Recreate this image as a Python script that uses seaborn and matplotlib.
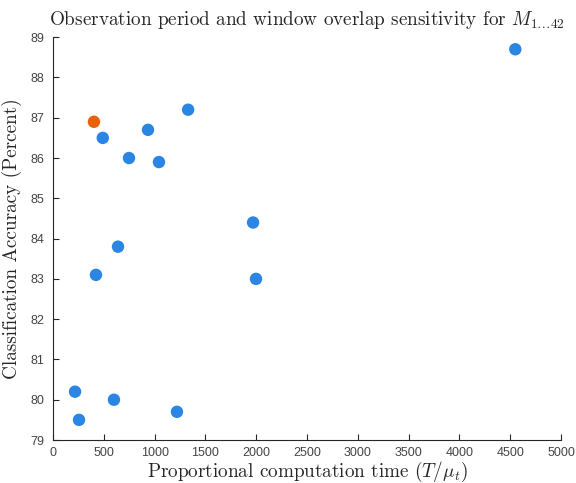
import matplotlib
matplotlib.use("Agg")
import matplotlib.pyplot as plt
import seaborn as sns
import pandas as pd

# Data
comp_time = [4550, 490, 1330, 935, 748, 1043, 1969, 640, 423, 1998, 217, 600, 1220, 256, 403]
accuracy = [88.7, 86.5, 87.2, 86.7, 86.0, 85.9, 84.4, 83.8, 83.1, 83.0, 80.2, 80.0, 79.7, 79.5, 86.9]
group = ["other"] * 14 + ["selected"]
x_ticks = [0, 500, 1000, 1500, 2000, 2500, 3000, 3500, 4000, 4500, 5000]
y_ticks = [79, 80, 81, 82, 83, 84, 85, 86, 87, 88, 89]

df = pd.DataFrame({"time": comp_time, "acc": accuracy, "group": group})

sns.set_style("white")
plt.rcParams["mathtext.fontset"] = "cm"
plt.rcParams["font.family"] = ["Liberation Sans", "DejaVu Sans"]

fig = plt.figure(figsize=(5.76, 4.83), dpi=100)
ax = fig.add_axes([0.092, 0.089, 0.882, 0.834])

sns.scatterplot(data=df, x="time", y="acc", hue="group",
                palette={"other": "#2A86E2", "selected": "#E8610B"},
                s=80, edgecolor="none", legend=False, ax=ax, zorder=3)

ax.set_xlim(0, 5000)
ax.set_ylim(79, 89)
ax.set_xticks(x_ticks)
ax.set_yticks(y_ticks)
ax.tick_params(bottom=True, left=True, direction="in", length=4, width=0.8,
               labelsize=9, color="#262626", labelcolor="#444444")
ax.tick_params(axis="y", pad=6)
ax.tick_params(axis="x", pad=5)
for side in ["top", "right"]:
    ax.spines[side].set_visible(False)
for side in ["left", "bottom"]:
    ax.spines[side].set_color("#262626")
    ax.spines[side].set_linewidth(0.8)

serif = dict(family="cmr10", color="#262626")
ax.set_title(r"Observation period and window overlap sensitivity for $M_{1\ldots42}$",
             fontsize=13.8, fontdict=serif, pad=9)
ax.set_xlabel(r"Proportional computation time $(T/\mu_t)$", fontsize=13.8, fontdict=serif, labelpad=1)
ax.set_ylabel("Classification Accuracy (Percent)", fontsize=13.8, fontdict=serif, labelpad=6)

fig.savefig("out.png", dpi=100)
